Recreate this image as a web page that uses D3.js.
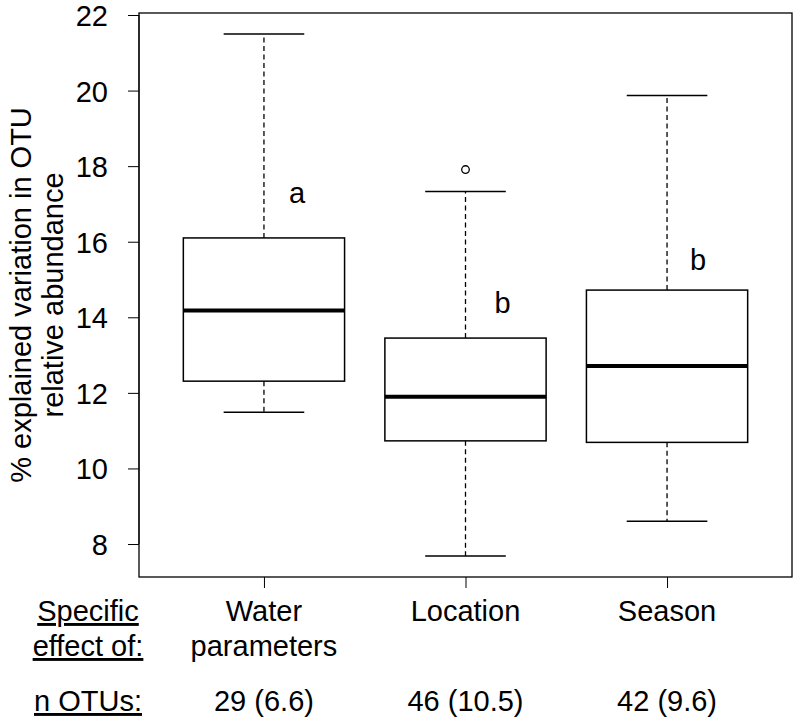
<!DOCTYPE html>
<html>
<head>
<meta charset="utf-8">
<script src="https://cdn.jsdelivr.net/npm/d3@7"></script>
<style>
  body { margin: 0; background: #fff; }
  svg text { font-family: "Liberation Sans", Arial, sans-serif; fill: #000; }
</style>
</head>
<body>
<svg id="chart" width="797" height="724"></svg>
<script>
// ---- data ----
const categories = ["Water parameters", "Location", "Season"];
const categoryLines = [["Water", "parameters"], ["Location"], ["Season"]];
const lowerWhisker = [11.49, 7.68, 8.60];
const q1 = [12.31, 10.73, 10.69];
const median = [14.18, 11.90, 12.71];
const q3 = [16.10, 13.45, 14.72];
const upperWhisker = [21.50, 17.33, 19.87];
const outliers = [[], [17.91], []];
const groupLetters = ["a", "b", "b"];
const letterValues = [17.30, 14.38, 15.52];
const nOtus = ["29 (6.6)", "46 (10.5)", "42 (9.6)"];
const yTicks = [8, 10, 12, 14, 16, 18, 20, 22];

// ---- layout ----
const svg = d3.select("#chart");
const L = 139, R = 792, T = 13, B = 577;
const FS = 29;

const allVals = lowerWhisker.concat(upperWhisker, outliers.flat());
const lo = d3.min(allVals), hi = d3.max(allVals);
const ext = 0.04 * (hi - lo);
const y = d3.scaleLinear().domain([lo - ext, hi + ext]).range([B, T]);
const xExt = 0.04 * 3;
const x = d3.scaleLinear().domain([0.5 - xExt, categories.length + 0.5 + xExt]).range([L, R]);
const halfBox = x(1.4) - x(1);
const halfStaple = halfBox / 2;

// y axis
const yAxis = d3.axisLeft(y).tickValues(yTicks).tickSize(11).tickPadding(20).tickFormat(d3.format("d"));
const gy = svg.append("g").attr("transform", `translate(${L},0)`).call(yAxis);
gy.selectAll("text").style("font-size", FS + "px").attr("dy", "0.36em");
gy.selectAll("line").attr("stroke", "#000");
gy.select(".domain").attr("d", `M0,${y(yTicks[0])}V${y(yTicks[yTicks.length-1])}`).attr("stroke", "#000").attr("fill", "none");

// x axis ticks
const gx = svg.append("g").attr("transform", `translate(0,${B})`)
  .call(d3.axisBottom(x).tickValues([1, 2, 3]).tickSize(11).tickFormat(""));
gx.select(".domain").remove();
gx.selectAll("line").attr("stroke", "#000");

// frame
svg.append("rect").attr("x", L).attr("y", T).attr("width", R - L).attr("height", B - T)
  .attr("fill", "none").attr("stroke", "#000").attr("stroke-width", 1.3);

// boxes
const g = svg.append("g");
const letterDx = [33, 37, 31];
categories.forEach((c, i) => {
  const cx = x(i + 1);
  // whiskers
  g.append("line").attr("x1", cx).attr("x2", cx).attr("y1", y(q3[i])).attr("y2", y(upperWhisker[i]))
    .attr("stroke", "#000").attr("stroke-width", 1.3).attr("stroke-dasharray", "5,3.5");
  g.append("line").attr("x1", cx).attr("x2", cx).attr("y1", y(q1[i])).attr("y2", y(lowerWhisker[i]))
    .attr("stroke", "#000").attr("stroke-width", 1.3).attr("stroke-dasharray", "5,3.5");
  // staples
  [upperWhisker[i], lowerWhisker[i]].forEach(v => {
    g.append("line").attr("x1", cx - halfStaple).attr("x2", cx + halfStaple).attr("y1", y(v)).attr("y2", y(v))
      .attr("stroke", "#000").attr("stroke-width", 1.5);
  });
  // box
  g.append("rect").attr("x", cx - halfBox).attr("y", y(q3[i])).attr("width", 2 * halfBox)
    .attr("height", y(q1[i]) - y(q3[i])).attr("fill", "#fff").attr("stroke", "#000").attr("stroke-width", 1.5);
  // median
  g.append("line").attr("x1", cx - halfBox).attr("x2", cx + halfBox).attr("y1", y(median[i])).attr("y2", y(median[i]))
    .attr("stroke", "#000").attr("stroke-width", 4);
  // outliers
  outliers[i].forEach(v => {
    g.append("circle").attr("cx", cx).attr("cy", y(v)).attr("r", 3.8)
      .attr("fill", "none").attr("stroke", "#000").attr("stroke-width", 1.3);
  });
  // group letters
  g.append("text").attr("x", cx + letterDx[i]).attr("y", y(letterValues[i])).attr("text-anchor", "middle")
    .attr("dy", "0.35em").style("font-size", FS + "px").text(groupLetters[i]);
  // category labels
  categoryLines[i].forEach((t, k) => {
    svg.append("text").attr("x", cx).attr("y", 621 + k * 35).attr("text-anchor", "middle")
      .style("font-size", FS + "px").text(t);
  });
  svg.append("text").attr("x", cx).attr("y", 711).attr("text-anchor", "middle")
    .style("font-size", FS + "px").text(nOtus[i]);
});

// left row labels (underlined)
[["Specific", 621], ["effect of:", 656], ["n OTUs:", 711]].forEach(([t, yy]) => {
  svg.append("text").attr("x", 88).attr("y", yy).attr("text-anchor", "middle")
    .style("font-size", FS + "px").style("text-decoration", "underline").text(t);
});

// y axis title
const ty = svg.append("text").attr("transform", `translate(0,${(T + B) / 2}) rotate(-90)`)
  .attr("text-anchor", "middle").style("font-size", FS + "px");
ty.append("tspan").attr("x", 0).attr("y", 31).text("% explained variation in OTU");
ty.append("tspan").attr("x", 0).attr("y", 63).text("relative abundance");
</script>
</body>
</html>
